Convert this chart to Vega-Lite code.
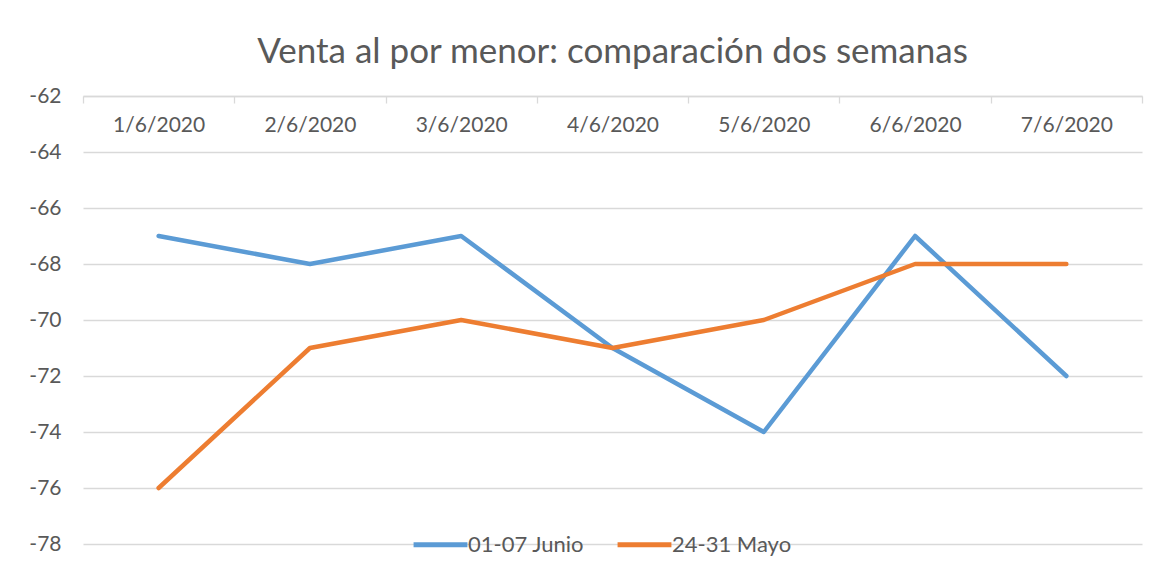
{
  "$schema": "https://vega.github.io/schema/vega-lite/v6.json",
  "autosize": "none",
  "width": 1059,
  "height": 448,
  "padding": {"left": 83, "top": 96, "right": 34, "bottom": 31},
  "background": "white",
  "config": {
    "font": "Lato",
    "view": {"stroke": null}
  },
  "title": {
    "text": "Venta al por menor: comparación dos semanas",
    "fontSize": 35,
    "fontWeight": "normal",
    "color": "#595959",
    "font": "Lato",
    "anchor": "middle",
    "offset": 15
  },
  "data": {
    "values": [
      {"fecha": "1/6/2020", "serie": "01-07 Junio", "valor": -67},
      {"fecha": "2/6/2020", "serie": "01-07 Junio", "valor": -68},
      {"fecha": "3/6/2020", "serie": "01-07 Junio", "valor": -67},
      {"fecha": "4/6/2020", "serie": "01-07 Junio", "valor": -71},
      {"fecha": "5/6/2020", "serie": "01-07 Junio", "valor": -74},
      {"fecha": "6/6/2020", "serie": "01-07 Junio", "valor": -67},
      {"fecha": "7/6/2020", "serie": "01-07 Junio", "valor": -72},
      {"fecha": "1/6/2020", "serie": "24-31 Mayo", "valor": -76},
      {"fecha": "2/6/2020", "serie": "24-31 Mayo", "valor": -71},
      {"fecha": "3/6/2020", "serie": "24-31 Mayo", "valor": -70},
      {"fecha": "4/6/2020", "serie": "24-31 Mayo", "valor": -71},
      {"fecha": "5/6/2020", "serie": "24-31 Mayo", "valor": -70},
      {"fecha": "6/6/2020", "serie": "24-31 Mayo", "valor": -68},
      {"fecha": "7/6/2020", "serie": "24-31 Mayo", "valor": -68}
    ]
  },
  "mark": {"type": "line", "strokeWidth": 4.5, "strokeCap": "round", "strokeJoin": "round"},
  "encoding": {
    "x": {
      "field": "fecha",
      "type": "ordinal",
      "sort": null,
      "scale": {"paddingInner": 0, "paddingOuter": 0},
      "axis": {
        "title": null,
        "orient": "bottom",
        "offset": -448,
        "labelAngle": 0,
        "labelFontSize": 21,
        "labelColor": "#595959",
        "labelPadding": 11,
        "domainColor": "#D9D9D9",
        "domainWidth": 1.3,
        "tickColor": "#D9D9D9",
        "tickWidth": 1.3,
        "tickSize": 7,
        "tickBand": "extent",
        "grid": false
      }
    },
    "y": {
      "field": "valor",
      "type": "quantitative",
      "scale": {"domain": [-78, -62], "nice": false, "zero": false},
      "axis": {
        "title": null,
        "values": [-78, -76, -74, -72, -70, -68, -66, -64, -62],
        "labelExpr": "replace(datum.label, '−', '-')",
        "domain": false,
        "ticks": false,
        "labelFontSize": 21,
        "labelColor": "#595959",
        "labelPadding": 22,
        "gridColor": "#D9D9D9",
        "gridWidth": 1.3
      }
    },
    "color": {
      "field": "serie",
      "type": "nominal",
      "scale": {"domain": ["01-07 Junio", "24-31 Mayo"], "range": ["#5B9BD5", "#ED7D31"]},
      "legend": {
        "title": null,
        "orient": "none",
        "direction": "horizontal",
        "legendX": 328,
        "legendY": 419,
        "symbolType": "stroke",
        "symbolSize": 2900,
        "symbolStrokeWidth": 5,
        "labelFontSize": 22,
        "labelColor": "#595959",
        "labelOffset": -2,
        "columnPadding": 22
      }
    }
  }
}
